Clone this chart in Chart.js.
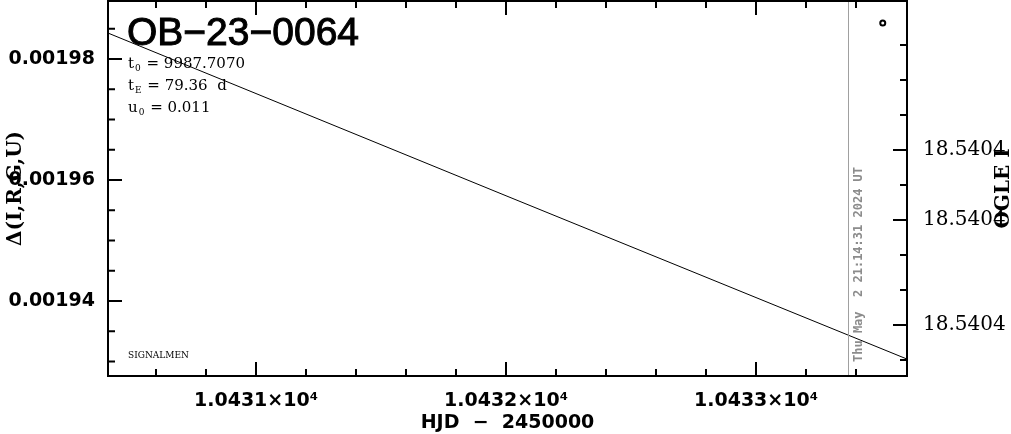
<!DOCTYPE html>
<html>
<head>
<meta charset="utf-8">
<script src="https://cdn.jsdelivr.net/npm/chart.js@4.4.1/dist/chart.umd.min.js"></script>
<style>
  html, body { margin: 0; padding: 0; background: #fff; }
  #wrap { width: 1011px; height: 434px; position: relative; }
</style>
</head>
<body>
<div id="wrap"><canvas id="chart-lc"></canvas></div>
<script>
// Données
const eventName = 'OB\u221223\u22120064';
const fitParams = [
    ['t', '0', ' = 9987.7070'],
    ['t', 'E', ' = 79.36  d'],
    ['u', '0', ' = 0.011']
];
const nowLabel = 'Thu May  2 21:14:31 2024 UT';
const nowHJD = 10433.367;

// modèle (HJD-2450000, delta)
const modelHJD = [10430.408, 10432.0, 10433.604];
const modelDelta = [0.0019843, 0.0019574, 0.0019304];

// point OGLE I
const ogleHJD = [10433.507];
const ogleMag = [18.54039937];

// axes
const xRange = [10430.408, 10433.604];
const xTicks = [10430.6, 10430.8, 10431, 10431.2, 10431.4, 10431.6, 10431.8, 10432,
                10432.2, 10432.4, 10432.6, 10432.8, 10433, 10433.2, 10433.4];
const xMajor = [10431, 10432, 10433];
const xTickLabels = ['1.0431\u00d710\u2074', '1.0432\u00d710\u2074', '1.0433\u00d710\u2074'];

const yRange = [0.0019276, 0.0019896];
const yTicks = [0.00193, 0.001935, 0.00194, 0.001945, 0.00195, 0.001955,
                0.00196, 0.001965, 0.00197, 0.001975, 0.00198, 0.001985];
const yMajor = [0.00194, 0.00196, 0.00198];
const yTickLabels = ['0.00194', '0.00196', '0.00198'];

const ogleRange = [18.54039874, 18.54040946];
const ogleTicks = [18.540400, 18.540401, 18.540402, 18.540403, 18.540404,
                   18.540405, 18.540406, 18.540407, 18.540408, 18.540409];
const ogleMajor = [18.540403, 18.540405, 18.540408];
const ogleTickLabels = ['18.5404', '18.5404', '18.5404'];

const idxDans = (liste, v) => liste.findIndex(m => Math.abs(m - v) < 1e-10);

const sansPadding = s => { s.paddingTop = 0; s.paddingBottom = 0; s.paddingLeft = 0; s.paddingRight = 0; };

const cadre = {
    id: 'cadre',
    afterDatasetsDraw(chart) {
        const ctx = chart.ctx;
        const a = chart.chartArea;
        const sx = chart.scales.x, sy = chart.scales.y, s2 = chart.scales.y2;
        ctx.save();

        // ligne verticale "maintenant"
        const xn = Math.round(sx.getPixelForValue(nowHJD)) + 0.5;
        ctx.strokeStyle = '#a0a0a0';
        ctx.lineWidth = 1;
        ctx.beginPath();
        ctx.moveTo(xn, a.top);
        ctx.lineTo(xn, a.bottom);
        ctx.stroke();

        // cadre
        ctx.strokeStyle = '#000';
        ctx.lineWidth = 2;
        ctx.strokeRect(a.left, a.top, a.right - a.left, a.bottom - a.top);

        // graduations intérieures
        ctx.beginPath();
        xTicks.forEach(v => {
            const p = sx.getPixelForValue(v);
            const len = idxDans(xMajor, v) >= 0 ? 14 : 7;
            ctx.moveTo(p, a.bottom); ctx.lineTo(p, a.bottom - len);
            ctx.moveTo(p, a.top); ctx.lineTo(p, a.top + len);
        });
        yTicks.forEach(v => {
            const p = sy.getPixelForValue(v);
            const len = idxDans(yMajor, v) >= 0 ? 14 : 7;
            ctx.moveTo(a.left, p); ctx.lineTo(a.left + len, p);
        });
        ogleTicks.forEach(v => {
            const p = s2.getPixelForValue(v);
            const len = idxDans(ogleMajor, v) >= 0 ? 14 : 7;
            ctx.moveTo(a.right, p); ctx.lineTo(a.right - len, p);
        });
        ctx.stroke();

        // date verticale grise
        ctx.save();
        ctx.fillStyle = '#8c8c8c';
        ctx.font = 'bold 12px "DejaVu Sans Mono"';
        ctx.translate(xn + 13, 362);
        ctx.rotate(-Math.PI / 2);
        ctx.textAlign = 'left';
        ctx.textBaseline = 'alphabetic';
        ctx.fillText(nowLabel, 0, 0);
        ctx.restore();

        // nom de l'événement
        ctx.fillStyle = '#000';
        ctx.strokeStyle = '#000';
        ctx.textAlign = 'left';
        ctx.textBaseline = 'alphabetic';
        ctx.font = '39px "Liberation Sans"';
        ctx.lineWidth = 1;
        ctx.fillText(eventName, 127, 45);
        ctx.strokeText(eventName, 127, 45);

        // paramètres
        fitParams.forEach((p, i) => {
            const y = 68 + i * 22;
            let x = 128;
            ctx.font = '15px "DejaVu Serif"';
            ctx.fillText(p[0], x, y);
            x += ctx.measureText(p[0]).width;
            ctx.font = '9px "DejaVu Serif"';
            ctx.fillText(p[1], x + 1, y + 3);
            x += ctx.measureText(p[1]).width + 2;
            ctx.font = '15px "DejaVu Serif"';
            ctx.fillText(p[2], x, y);
        });

        ctx.font = '9px "DejaVu Serif"';
        ctx.fillText('SIGNALMEN', 128, 358);

        // titres des axes
        ctx.font = 'bold 19px "DejaVu Sans"';
        ctx.textAlign = 'center';
        ctx.fillText('HJD  \u2212  2450000', (a.left + a.right) / 2, 428);

        ctx.font = 'bold 20px "DejaVu Serif"';
        ctx.save();
        ctx.translate(21, (a.top + a.bottom) / 2);
        ctx.rotate(-Math.PI / 2);
        ctx.fillText('\u0394(I,R,G,U)', 0, 0);
        ctx.restore();

        ctx.save();
        ctx.translate(1009, (a.top + a.bottom) / 2);
        ctx.rotate(-Math.PI / 2);
        ctx.fillText('OGLE I', 0, 0);
        ctx.restore();

        ctx.restore();
    }
};

new Chart(document.getElementById('chart-lc'), {
    type: 'line',
    data: {
        datasets: [
            {
                label: 'modele',
                data: modelHJD.map((x, i) => ({ x: x, y: modelDelta[i] })),
                xAxisID: 'x',
                yAxisID: 'y',
                borderColor: '#000',
                borderWidth: 1,
                pointRadius: 0,
                tension: 0,
                fill: false
            },
            {
                label: 'OGLE I',
                data: ogleHJD.map((x, i) => ({ x: x, y: ogleMag[i] })),
                xAxisID: 'x',
                yAxisID: 'y2',
                showLine: false,
                pointRadius: 2.5,
                pointBorderWidth: 2,
                pointBorderColor: '#000',
                pointBackgroundColor: '#fff'
            }
        ]
    },
    options: {
        responsive: true,
        maintainAspectRatio: false,
        animation: false,
        layout: { autoPadding: false, padding: { top: 1, left: 0, right: 0, bottom: 0 } },
        plugins: { legend: { display: false }, tooltip: { enabled: false } },
        scales: {
            x: {
                type: 'linear',
                position: 'bottom',
                min: xRange[0],
                max: xRange[1],
                grid: { display: false, drawTicks: false },
                border: { display: false },
                afterBuildTicks: s => { s.ticks = xTicks.map(v => ({ value: v })); },
                afterFit: s => { s.height = 58; sansPadding(s); },
                ticks: {
                    autoSkip: false,
                    maxRotation: 0,
                    padding: 14,
                    color: '#000',
                    font: { family: 'DejaVu Sans', size: 19, weight: 'bold' },
                    callback: v => { const i = idxDans(xMajor, v); return i >= 0 ? xTickLabels[i] : ''; }
                }
            },
            y: {
                type: 'linear',
                position: 'left',
                min: yRange[0],
                max: yRange[1],
                grid: { display: false, drawTicks: false },
                border: { display: false },
                afterBuildTicks: s => { s.ticks = yTicks.map(v => ({ value: v })); },
                afterFit: s => { s.width = 108; sansPadding(s); },
                ticks: {
                    autoSkip: false,
                    padding: 13,
                    color: '#000',
                    font: { family: 'DejaVu Sans', size: 19, weight: 'bold' },
                    callback: v => { const i = idxDans(yMajor, v); return i >= 0 ? yTickLabels[i] : ''; }
                }
            },
            y2: {
                type: 'linear',
                position: 'right',
                reverse: true,
                min: ogleRange[0],
                max: ogleRange[1],
                grid: { display: false, drawTicks: false },
                border: { display: false },
                afterBuildTicks: s => { s.ticks = ogleTicks.map(v => ({ value: v })); },
                afterFit: s => { s.width = 104; sansPadding(s); },
                ticks: {
                    autoSkip: false,
                    padding: 16,
                    color: '#000',
                    font: { family: 'DejaVu Serif', size: 20 },
                    callback: v => { const i = idxDans(ogleMajor, v); return i >= 0 ? ogleTickLabels[i] : ''; }
                }
            }
        }
    },
    plugins: [cadre]
});
</script>
</body>
</html>
